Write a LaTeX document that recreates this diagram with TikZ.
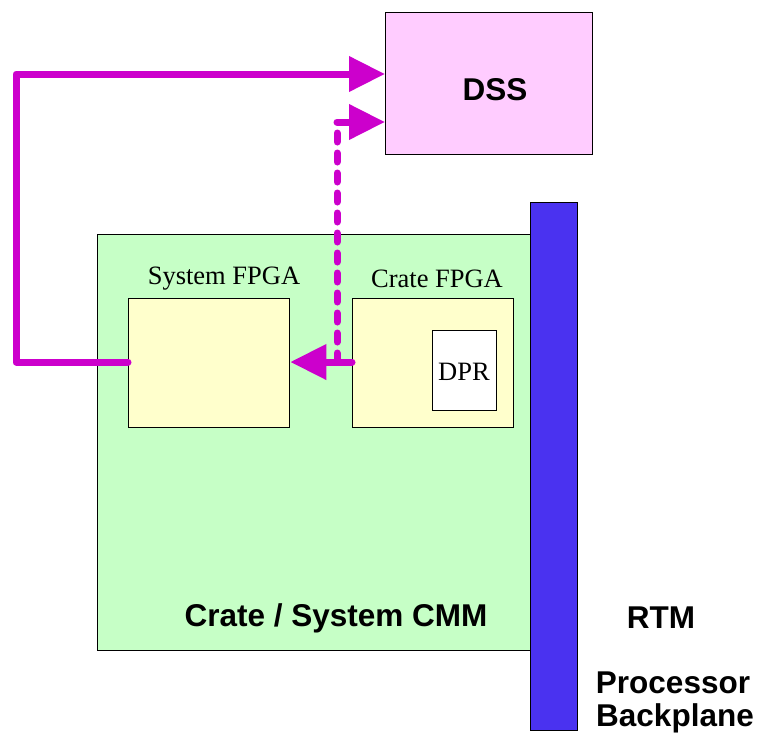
\documentclass[tikz,border=0pt]{standalone}
\usepackage{fontspec}
\setmainfont{Liberation Serif}
\setsansfont{Liberation Sans}
\usetikzlibrary{arrows.meta,calc}
\definecolor{dsspink}{HTML}{FFCCFF}
\definecolor{cmmgreen}{HTML}{C6FFC6}
\definecolor{fpgayellow}{HTML}{FFFFCC}
\definecolor{barblue}{HTML}{4A32F0}
\definecolor{link}{HTML}{CC00CC}
\tikzset{
  box/.style={draw=black, line width=1.3pt, inner sep=0pt, anchor=north west},
  boldlabel/.style={font=\sffamily\bfseries\fontsize{31.5}{34}\selectfont, inner sep=0pt},
  serlabel/.style={font=\fontsize{26.5}{28}\selectfont, inner sep=0pt},
  linkline/.style={draw=link, line width=7pt, line cap=round, line join=round},
  linkarrow/.style={linkline, -{Triangle[length=36pt,width=34pt]}},
  linkdash/.style={draw=link, line width=7pt, line cap=round, dash pattern=on 9pt off 11pt}
}
\begin{document}
\begin{tikzpicture}[x=1pt,y=-1pt]
\useasboundingbox (0,0) rectangle (760,737);
% DSS box
\node[box, fill=dsspink, minimum width=207pt, minimum height=142pt] (dss) at (385,12) {};
\node[boldlabel] (dsst) at (495,90) {DSS};
% CMM board and backplane bar
\node[box, fill=cmmgreen, minimum width=433pt, minimum height=416pt] (cmm) at (97,234) {};
\node[box, fill=barblue, minimum width=47pt, minimum height=528pt] (bar) at (530,202) {};
% FPGAs
\node[box, fill=fpgayellow, minimum width=161pt, minimum height=129pt] (sys) at (128,298) {};
\node[box, fill=fpgayellow, minimum width=161pt, minimum height=129pt] (crate) at (352,298) {};
\node[box, fill=white, minimum width=64pt, minimum height=80pt] (dpr) at (432,330) {};
\node[serlabel] (dprt) at (464,372) {DPR};
\node[serlabel] (syst) at (224,279) {System FPGA};
\node[serlabel] (cratet) at (437,279) {Crate FPGA};
% labels
\node[boldlabel] (cmmt) at (336,618) {Crate / System CMM};
\node[boldlabel] (rtm) at (661,618) {RTM};
\node[boldlabel] (proc) at (673,683) {Processor};
\node[boldlabel] (bp) at (675,718) {Backplane};
% connectors
\coordinate (c1) at (16,362);
\coordinate (split) at (337,362);
\coordinate (c2) at (337,122);
\draw[linkarrow] (sys.west |- c1) -- (c1) |- ($(dss.north west)+(0,62)$);
\draw[linkarrow] (crate.west |- split) -- (sys.east |- split);
\draw[linkdash] (split) -- (c2);
\draw[linkarrow] (c2) -- ($(dss.north west)+(0,110)$);
\end{tikzpicture}
\end{document}
